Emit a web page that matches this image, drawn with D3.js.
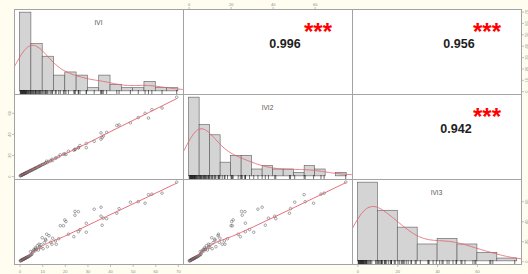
<!DOCTYPE html>
<html>
<head>
<meta charset="utf-8">
<script src="https://cdn.jsdelivr.net/npm/d3@7"></script>
<style>
  body { margin: 0; background: #fffdf0; }
  svg { display: block; }
</style>
</head>
<body>
<svg id="chart"></svg>
<script>
// variables shown on the diagonal
const varNames = ['IVI', 'IVI2', 'IVI3'];

// observations (same order in every array)
const IVI  = [57.0, 58.5, 69.5, 63.0, 52.5, 55.5, 49.0, 44.0, 43.0, 38.5, 36.0, 36.0, 33.0, 36.5, 37.0,
              24.5, 26.0, 24.5, 29.5, 26.0, 26.7, 29.5, 20.0, 20.5, 19.4, 18.0, 24.0, 21.6, 17.3, 15.8,
              16.2, 14.3, 12.0, 11.4, 10.0, 8.6, 9.3, 7.1, 4.9,
              0.3, 0.5, 0.6, 0.8, 1.0, 1.1, 1.3, 1.5, 1.6, 1.8, 2.0, 2.1, 2.3, 2.5, 2.6, 2.8, 3.0, 3.2, 3.4, 3.7, 3.9, 4.2, 4.5, 4.8,
              5.2, 5.5, 5.8, 6.1, 6.4, 6.8, 7.0, 7.5, 7.9, 8.3, 8.8, 9.5,
              10.4, 10.9, 11.6, 12.3, 13.0, 13.8, 14.6];
const IVI2 = [55.0, 63.0, 74.8, 64.5, 55.5, 59.5, 50.5, 48.5, 48.0, 41.5, 41.0, 35.0, 33.0, 36.5, 38.0,
              25.2, 26.8, 25.5, 27.0, 27.0, 29.0, 31.0, 21.2, 20.5, 20.8, 20.2, 24.6, 23.6, 18.5, 17.0,
              17.3, 16.0, 14.2, 12.5, 11.0, 9.5, 10.0, 7.8, 5.5,
              0.3, 0.6, 0.6, 0.9, 1.1, 1.2, 1.4, 1.6, 1.7, 1.9, 2.2, 2.2, 2.5, 2.7, 2.8, 3.0, 3.2, 3.4, 3.7, 3.9, 4.3, 4.5, 4.9, 5.1,
              5.6, 5.9, 6.2, 6.5, 7.0, 7.2, 7.6, 8.0, 8.5, 8.9, 9.4, 10.2,
              11.2, 11.6, 12.5, 13.0, 14.0, 14.6, 14.9];
const IVI3 = [66.5, 67.0, 79.0, 68.0, 59.5, 58.0, 59.0, 52.5, 48.0, 42.5, 45.0, 54.0, 52.0, 36.0, 43.0,
              49.8, 49.5, 46.0, 38.0, 29.5, 31.6, 29.0, 41.3, 39.6, 35.5, 35.5, 24.5, 27.0, 22.5, 20.3,
              17.0, 17.0, 27.0, 22.0, 23.5, 17.0, 13.8, 12.2, 9.7,
              0.4, 0.5, 0.8, 0.9, 1.2, 1.4, 1.5, 1.8, 2.0, 2.1, 2.4, 2.6, 2.7, 3.1, 3.0, 3.4, 3.6, 4.0, 4.1, 4.5, 4.6, 5.0, 5.6, 6.2,
              6.5, 7.2, 9.1, 10.5, 11.8, 10.2, 13.5, 12.0, 15.5, 11.2, 14.0, 16.5,
              12.5, 18.5, 21.0, 14.5, 25.5, 19.0, 23.0];

// upper panels: correlation text and significance stars, row/col order (1,2) (1,3) (2,3)
const corrCells  = [[0, 1], [0, 2], [1, 2]];
const corrValues = ['0.996', '0.956', '0.942'];
const corrStars  = ['***', '***', '***'];

// histogram bin widths and axis tick labels
const binWidths = [5, 5, 10];
const ticksBy10 = [0, 10, 20, 30, 40, 50, 60, 70];
const ticksBy20 = [0, 20, 40, 60];

const W = 528, H = 274;
const padL = 14, padT = 9, cellW = 169, cellH = 85;
const corrDx = [102, 107, 104];   // small per-cell nudges of the numbers
const red = '#e2606c';

const svg = d3.select('#chart').attr('width', W).attr('height', H);
svg.append('rect').attr('width', W).attr('height', H).attr('fill', '#fffdf0');

const series = [IVI, IVI2, IVI3];

const xs = series.map((v, k) => {
  const [a, b] = d3.extent(v), p = 0.04 * (b - a);
  return d3.scaleLinear().domain([a - p, b + p]).range([padL + k * cellW, padL + (k + 1) * cellW]);
});
const ys = series.map((v, k) => {
  const [a, b] = d3.extent(v), p = 0.04 * (b - a);
  return d3.scaleLinear().domain([a - p, b + p]).range([padT + (k + 1) * cellH, padT + k * cellH]);
});

// R style lowess (f = 2/3, 3 robustness iterations)
function lowess(xv, yv, f = 2 / 3, iter = 3) {
  const idx = d3.range(xv.length).sort((a, b) => xv[a] - xv[b]);
  const x = idx.map(i => xv[i]), y = idx.map(i => yv[i]);
  const m = x.length, r = Math.ceil(f * m);
  let rw = new Array(m).fill(1), fit = new Array(m);
  for (let it = 0; it <= iter; it++) {
    for (let i = 0; i < m; i++) {
      const d = x.map(v => Math.abs(v - x[i]));
      const h = Math.max(d.slice().sort((a, b) => a - b)[r - 1], 1e-9);
      let sw = 0, sx = 0, sy = 0, sxx = 0, sxy = 0;
      for (let j = 0; j < m; j++) {
        const u = d[j] / h;
        if (u >= 1) continue;
        const w = rw[j] * Math.pow(1 - u * u * u, 3);
        sw += w; sx += w * x[j]; sy += w * y[j]; sxx += w * x[j] * x[j]; sxy += w * x[j] * y[j];
      }
      const mx = sx / sw, my = sy / sw, vx = sxx / sw - mx * mx;
      const b = vx > 1e-12 ? (sxy / sw - mx * my) / vx : 0;
      fit[i] = my + b * (x[i] - mx);
    }
    if (it === iter) break;
    const res = y.map((v, i) => v - fit[i]);
    const s = d3.median(res.map(Math.abs)) || 1e-9;
    rw = res.map(e => { const u = e / (6 * s); return Math.abs(u) < 1 ? (1 - u * u) ** 2 : 0; });
  }
  return x.map((v, i) => [v, fit[i]]);
}

// gaussian kde with bw.nrd0, scaled to counts per bin
function kde(v, bin) {
  const s = v.slice().sort(d3.ascending);
  const iqr = d3.quantile(s, 0.75) - d3.quantile(s, 0.25);
  const bw = 0.9 * Math.min(d3.deviation(s), iqr / 1.34) * Math.pow(s.length, -0.2);
  const lo = s[0] - 3 * bw, hi = s[s.length - 1] + 3 * bw;
  return d3.range(200).map(i => {
    const t = lo + (hi - lo) * i / 199;
    const dens = d3.sum(s, d => Math.exp(-0.5 * ((t - d) / bw) ** 2)) / (s.length * bw * Math.sqrt(2 * Math.PI));
    return [t, dens * s.length * bin];
  });
}

const defs = svg.append('defs');

for (let i = 0; i < 3; i++) {
  for (let j = 0; j < 3; j++) {
    const x0 = padL + j * cellW, y0 = padT + i * cellH;
    const clipId = `clip-${i}-${j}`;
    defs.append('clipPath').attr('id', clipId)
      .append('rect').attr('x', x0).attr('y', y0).attr('width', cellW).attr('height', cellH);
    const g = svg.append('g');
    g.append('rect').attr('x', x0).attr('y', y0).attr('width', cellW).attr('height', cellH).attr('fill', '#fff');
    const inner = g.append('g').attr('clip-path', `url(#${clipId})`);

    if (i === j) {
      const v = series[i], bwid = binWidths[i];
      const hiEdge = Math.ceil(d3.max(v) / bwid) * bwid;
      const bins = d3.bin().domain([0, hiEdge]).thresholds(d3.range(0, hiEdge + 0.001, bwid))(v);
      const maxC = d3.max(bins, b => b.length);
      const hy = d3.scaleLinear().domain([-0.04 * maxC, 1.04 * maxC]).range([y0 + cellH, y0]);
      const x = xs[j];

      inner.selectAll('rect.bar').data(bins).join('rect')
        .attr('x', b => x(b.x0)).attr('width', b => x(b.x1) - x(b.x0))
        .attr('y', b => hy(b.length)).attr('height', b => hy(0) - hy(b.length))
        .attr('fill', '#d4d4d4').attr('stroke', '#5a5a5a').attr('stroke-width', 0.6);

      inner.append('path').datum(kde(v, bwid))
        .attr('d', d3.line().x(d => x(d[0])).y(d => hy(d[1])))
        .attr('fill', 'none').attr('stroke', red).attr('stroke-width', 0.8);

      inner.selectAll('line.rug').data(v).join('line')
        .attr('x1', d => x(d)).attr('x2', d => x(d))
        .attr('y1', y0 + cellH).attr('y2', y0 + cellH - 4)
        .attr('stroke', '#111').attr('stroke-width', 0.6);

      g.append('text').attr('x', x0 + cellW / 2).attr('y', y0 + 16)
        .attr('text-anchor', 'middle').attr('font-family', 'Liberation Sans, sans-serif')
        .attr('font-size', 6.5).attr('fill', '#555').text(varNames[i]);
    } else if (i > j) {
      const x = xs[j], y = ys[i];
      const pts = series[j].map((d, k) => [d, series[i][k]]);
      inner.selectAll('circle').data(pts).join('circle')
        .attr('cx', d => x(d[0])).attr('cy', d => y(d[1])).attr('r', 1.3)
        .attr('fill', 'none').attr('stroke', '#555').attr('stroke-width', 0.5);
      inner.append('path').datum(lowess(series[j], series[i]))
        .attr('d', d3.line().x(d => x(d[0])).y(d => y(d[1])))
        .attr('fill', 'none').attr('stroke', red).attr('stroke-width', 0.9);
    } else {
      const k = corrCells.findIndex(c => c[0] === i && c[1] === j);
      g.append('text').attr('x', x0 + 135).attr('y', y0 + 30.5)
        .attr('text-anchor', 'middle').attr('font-family', 'Liberation Sans, sans-serif')
        .attr('font-weight', 700).attr('font-size', 24).attr('fill', '#ff0000').text(corrStars[k]);
      g.append('text').attr('x', x0 + corrDx[k]).attr('y', y0 + 38.5)
        .attr('text-anchor', 'middle').attr('font-family', 'Liberation Sans, sans-serif')
        .attr('font-weight', 700).attr('font-size', 12.5).attr('fill', '#1e1e1e').text(corrValues[k]);
    }
    g.append('rect').attr('x', x0 + 0.5).attr('y', y0 + 0.5).attr('width', cellW).attr('height', cellH)
      .attr('fill', 'none').attr('stroke', '#a3a3a3').attr('stroke-width', 1);
  }
}

// pairs() style alternating axes; y labels run parallel to the axis
function axis(gen, transform, ticks, pad, rotOff) {
  const g = svg.append('g').attr('transform', transform)
    .call(gen.tickValues(ticks).tickSize(2).tickPadding(pad).tickFormat(d3.format('d')));
  g.select('.domain').remove();
  g.selectAll('line').attr('stroke', '#999').attr('stroke-width', 0.6);
  const t = g.selectAll('text').attr('font-size', 4).attr('fill', '#888')
    .attr('font-family', 'Liberation Sans, sans-serif');
  if (rotOff !== undefined) {
    t.attr('x', 0).attr('dy', 0).attr('text-anchor', 'middle')
      .attr('transform', `translate(${rotOff},0) rotate(-90)`);
  }
}
axis(d3.axisBottom(xs[0]), `translate(0,${padT + 3 * cellH + 1})`, ticksBy10, 3);
axis(d3.axisBottom(xs[2]), `translate(0,${padT + 3 * cellH + 1})`, ticksBy20, 3);
axis(d3.axisTop(xs[1]), `translate(0,${padT})`, ticksBy20, 1.5);
axis(d3.axisLeft(ys[1]), `translate(${padL},0)`, ticksBy20, 1.5, -3);
axis(d3.axisRight(ys[0]), `translate(${padL + 3 * cellW + 1},0)`, ticksBy10, 1.5, 6);
axis(d3.axisRight(ys[2]), `translate(${padL + 3 * cellW + 1},0)`, ticksBy20, 1.5, 6);
</script>
</body>
</html>
